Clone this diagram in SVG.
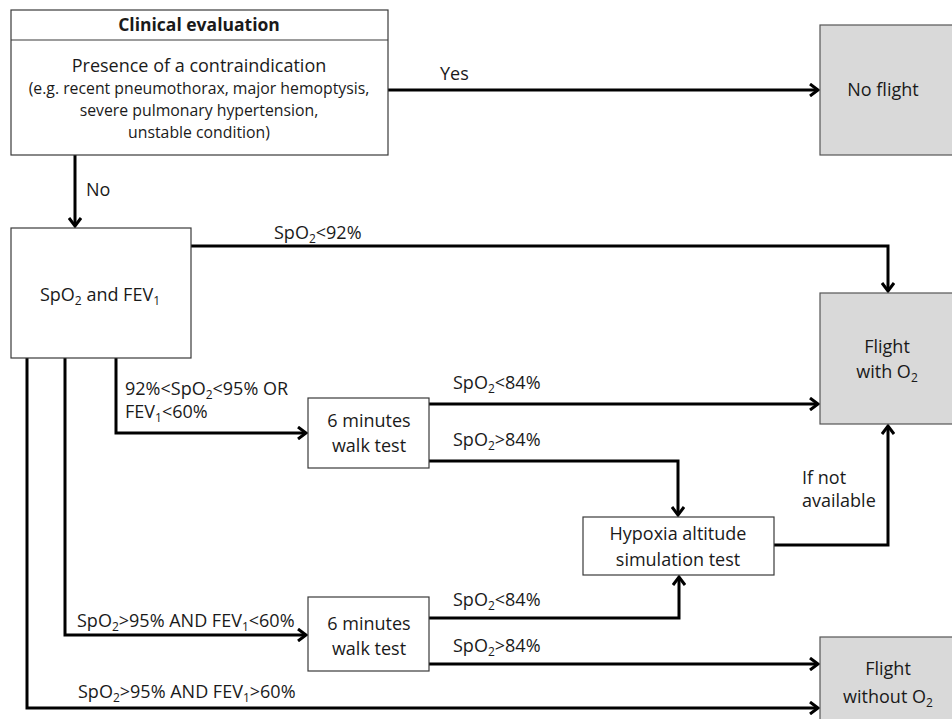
<svg xmlns="http://www.w3.org/2000/svg" width="952" height="719" viewBox="0 0 952 719">
<style>
.box{fill:#fff;stroke:#3a3a3a;stroke-width:1.2}
.gbox{fill:#d9d9d9;stroke:#555;stroke-width:1.2}
text{font-family:"Open Sans","Liberation Sans",sans-serif;font-size:18px;fill:#1a1a1a}
.c{text-anchor:middle}
.b{font-weight:bold;font-size:17.5px}
.p{font-size:15.8px}
.s{font-size:12px}
.e{stroke:#000;stroke-width:3;fill:none}
</style>
<defs>
<marker id="ah" markerWidth="14" markerHeight="14" refX="11" refY="7" orient="auto" markerUnits="userSpaceOnUse">
<path d="M3,1 L11,7 L3,13" fill="none" stroke="#000" stroke-width="3"/>
</marker>
</defs>
<g id="connectors">
<path class="e" d="M388,90 H818" marker-end="url(#ah)"/>
<path class="e" d="M75,155 V226" marker-end="url(#ah)"/>
<path class="e" d="M191,246 H888 V291" marker-end="url(#ah)"/>
<path class="e" d="M116,358 V433 H306" marker-end="url(#ah)"/>
<path class="e" d="M429,404 H818" marker-end="url(#ah)"/>
<path class="e" d="M429,461 H678 V515" marker-end="url(#ah)"/>
<path class="e" d="M774,545 H888 V426" marker-end="url(#ah)"/>
<path class="e" d="M65,358 V635 H306" marker-end="url(#ah)"/>
<path class="e" d="M429,618 H679 V577" marker-end="url(#ah)"/>
<path class="e" d="M429,664 H818" marker-end="url(#ah)"/>
<path class="e" d="M27,358 V708 H818" marker-end="url(#ah)"/>
<text x="440" y="80">Yes</text>
<text x="86" y="196">No</text>
<text x="274" y="239">SpO<tspan class="s" dy="4">2</tspan><tspan dy="-4">&lt;92%</tspan></text>
<text x="125" y="395">92%&lt;SpO<tspan class="s" dy="4">2</tspan><tspan dy="-4">&lt;95% OR</tspan></text>
<text x="125" y="418">FEV<tspan class="s" dy="4">1</tspan><tspan dy="-4">&lt;60%</tspan></text>
<text x="453" y="389">SpO<tspan class="s" dy="4">2</tspan><tspan dy="-4">&lt;84%</tspan></text>
<text x="453" y="446">SpO<tspan class="s" dy="4">2</tspan><tspan dy="-4">&gt;84%</tspan></text>
<text x="802" y="484">If not</text>
<text x="802" y="507">available</text>
<text x="77" y="627">SpO<tspan class="s" dy="4">2</tspan><tspan dy="-4">&gt;95% AND FEV</tspan><tspan class="s" dy="4">1</tspan><tspan dy="-4">&lt;60%</tspan></text>
<text x="453" y="606">SpO<tspan class="s" dy="4">2</tspan><tspan dy="-4">&lt;84%</tspan></text>
<text x="453" y="652">SpO<tspan class="s" dy="4">2</tspan><tspan dy="-4">&gt;84%</tspan></text>
<text x="78" y="698">SpO<tspan class="s" dy="4">2</tspan><tspan dy="-4">&gt;95% AND FEV</tspan><tspan class="s" dy="4">1</tspan><tspan dy="-4">&gt;60%</tspan></text>
</g>
<g id="clinical">
<rect class="box" x="11" y="10" width="377" height="145"/>
<line x1="11" y1="40" x2="388" y2="40" stroke="#3a3a3a" stroke-width="1.2"/>
<text class="c b" x="199" y="31">Clinical evaluation</text>
<text class="c" x="199" y="72">Presence of a contraindication</text>
<text class="c p" x="199" y="94">(e.g. recent pneumothorax, major hemoptysis,</text>
<text class="c p" x="199" y="116">severe pulmonary hypertension,</text>
<text class="c p" x="199" y="138">unstable condition)</text>
</g>
<g id="noflight">
<rect class="gbox" x="820" y="25" width="140" height="130"/>
<text class="c" x="883" y="96">No flight</text>
</g>
<g id="spo2fev1">
<rect class="box" x="11" y="228" width="180" height="130"/>
<text class="c" x="100" y="301">SpO<tspan class="s" dy="4">2</tspan><tspan dy="-4"> and FEV</tspan><tspan class="s" dy="4">1</tspan></text>
</g>
<g id="flightwith">
<rect class="gbox" x="820" y="293" width="140" height="131"/>
<text class="c" x="887" y="353">Flight</text>
<text class="c" x="887" y="378">with O<tspan class="s" dy="4">2</tspan></text>
</g>
<g id="walk1">
<rect class="box" x="308" y="398" width="121" height="70"/>
<text class="c" x="369" y="427">6 minutes</text>
<text class="c" x="369" y="452">walk test</text>
</g>
<g id="hypoxia">
<rect class="box" x="583" y="517" width="191" height="58"/>
<text class="c" x="678" y="540">Hypoxia altitude</text>
<text class="c" x="678" y="566">simulation test</text>
</g>
<g id="walk2">
<rect class="box" x="308" y="597" width="121" height="74"/>
<text class="c" x="369" y="630">6 minutes</text>
<text class="c" x="369" y="655">walk test</text>
</g>
<g id="flightwithout">
<rect class="gbox" x="820" y="637" width="140" height="90"/>
<text class="c" x="888" y="675">Flight</text>
<text class="c" x="888" y="703">without O<tspan class="s" dy="4">2</tspan></text>
</g>
</svg>
